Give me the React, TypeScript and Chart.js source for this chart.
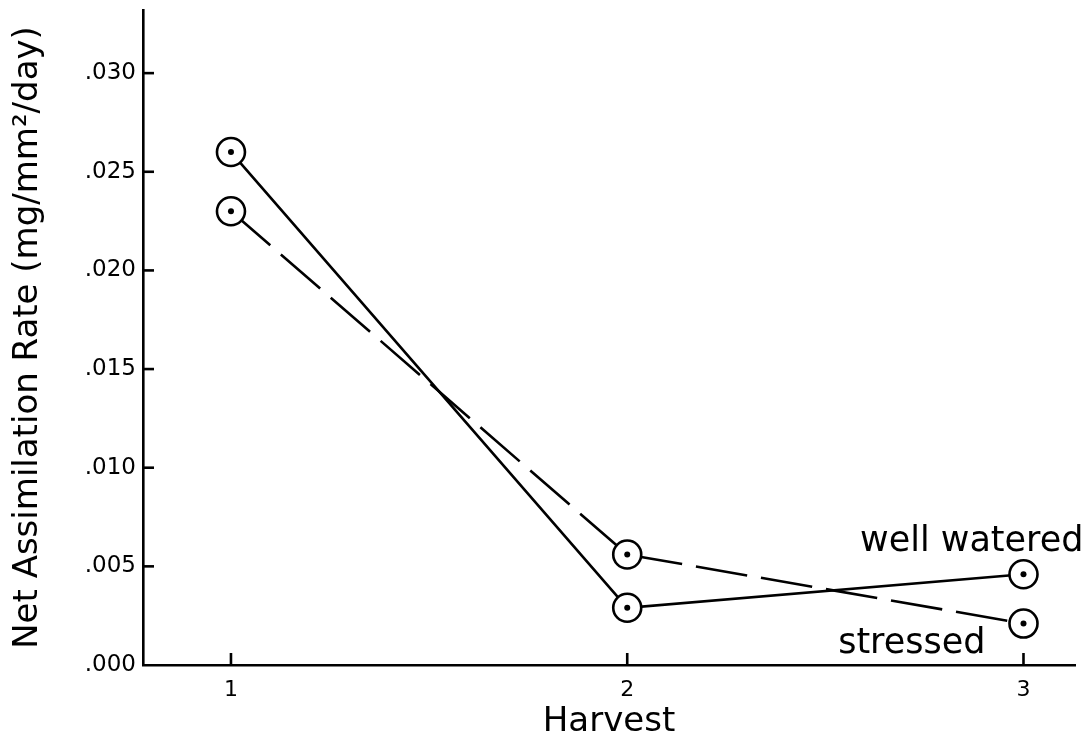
import { useEffect, useRef } from "react";
import { Chart, registerables } from "chart.js";

Chart.register(...registerables);

// Harvest number on the x axis
const harvests = [1, 2, 3];
// Net assimilation rate, mg/mm²/day
const wellWatered = [0.026, 0.0029, 0.0046];
const stressed = [0.023, 0.0056, 0.0021];

const yTickValues = [0, 0.005, 0.01, 0.015, 0.02, 0.025, 0.03];
const xTickValues = [1, 2, 3];

const yTitle = "Net Assimilation Rate (mg/mm²/day)";
const xTitle = "Harvest";
const seriesNames = ["well watered", "stressed"];

const FONT = "'DejaVu Sans', sans-serif";
const INK = "#000";
const STROKE = 2.6;

const fmtRate = (v: number) => v.toFixed(3).replace(/^0/, "");

// Inward tick marks, dotted marker centres and the series labels
const decorPlugin = {
  id: "decor",
  afterDatasetsDraw(chart: any) {
    const ctx = chart.ctx as CanvasRenderingContext2D;
    const xs = chart.scales.x;
    const ys = chart.scales.y;
    ctx.save();
    ctx.strokeStyle = INK;
    ctx.fillStyle = INK;
    ctx.lineWidth = STROKE;
    ctx.lineCap = "butt";

    yTickValues.forEach((v) => {
      if (v === 0) return;
      const py = ys.getPixelForValue(v);
      ctx.beginPath();
      ctx.moveTo(xs.left, py);
      ctx.lineTo(xs.left + 11, py);
      ctx.stroke();
    });
    xTickValues.forEach((v) => {
      const px = xs.getPixelForValue(v);
      ctx.beginPath();
      ctx.moveTo(px, ys.bottom);
      ctx.lineTo(px, ys.bottom - 12);
      ctx.stroke();
    });

    chart.data.datasets.forEach((_: any, i: number) => {
      chart.getDatasetMeta(i).data.forEach((pt: any) => {
        ctx.beginPath();
        ctx.arc(pt.x, pt.y, 3, 0, Math.PI * 2);
        ctx.fill();
      });
    });

    ctx.font = `35px ${FONT}`;
    ctx.textAlign = "right";
    ctx.textBaseline = "alphabetic";
    const wwLast = chart.getDatasetMeta(0).data[harvests.length - 1];
    const stLast = chart.getDatasetMeta(1).data[harvests.length - 1];
    ctx.fillText(seriesNames[0], wwLast.x + 60, wwLast.y - 23);
    ctx.fillText(seriesNames[1], stLast.x - 38, stLast.y + 29);
    ctx.restore();
  },
};

export default function App() {
  const canvasRef = useRef<HTMLCanvasElement | null>(null);

  useEffect(() => {
    const canvas = canvasRef.current;
    if (!canvas) return;

    const pointStyle = {
      pointStyle: "circle" as const,
      pointRadius: 14,
      pointBorderWidth: STROKE,
      pointBackgroundColor: "#fff",
      pointBorderColor: INK,
      borderColor: INK,
      borderWidth: STROKE,
      tension: 0,
      fill: false,
    };

    const chart = new Chart(canvas, {
      type: "line",
      data: {
        datasets: [
          {
            label: seriesNames[0],
            data: harvests.map((h, i) => ({ x: h, y: wellWatered[i] })),
            ...pointStyle,
          },
          {
            label: seriesNames[1],
            data: harvests.map((h, i) => ({ x: h, y: stressed[i] })),
            borderDash: [52, 14],
            ...pointStyle,
          },
        ],
      },
      options: {
        animation: false,
        responsive: false,
        devicePixelRatio: 1,
        layout: {
          autoPadding: false,
          padding: { top: 10, right: 13, left: 0, bottom: 0 },
        },
        plugins: {
          legend: { display: false },
          tooltip: { enabled: false },
        },
        events: [],
        scales: {
          x: {
            type: "linear",
            min: 0.778,
            max: 3.13,
            afterBuildTicks: (scale: any) => {
              scale.ticks = xTickValues.map((v) => ({ value: v }));
            },
            afterFit: (scale: any) => {
              scale.height = 74;
              scale.paddingLeft = 0;
              scale.paddingRight = 0;
            },
            grid: { display: false, drawTicks: false },
            border: { display: true, color: INK, width: STROKE },
            ticks: {
              color: INK,
              font: { family: FONT, size: 22 },
              padding: 12,
              maxRotation: 0,
              callback: (v: any) => String(v),
            },
            title: {
              display: true,
              text: xTitle,
              color: INK,
              font: { family: FONT, size: 34, lineHeight: 1 },
              padding: 0,
            },
          },
          y: {
            type: "linear",
            min: 0,
            max: 0.0332,
            afterBuildTicks: (scale: any) => {
              scale.ticks = yTickValues.map((v) => ({ value: v }));
            },
            afterFit: (scale: any) => {
              scale.width = 143;
              scale.paddingTop = 0;
              scale.paddingBottom = 0;
            },
            grid: { display: false, drawTicks: false },
            border: { display: true, color: INK, width: STROKE },
            ticks: {
              color: INK,
              font: { family: FONT, size: 23 },
              padding: 7,
              callback: (v: any) => fmtRate(Number(v)),
            },
            title: {
              display: true,
              text: yTitle,
              color: INK,
              font: { family: FONT, size: 34, lineHeight: 1 },
              padding: { top: 11, bottom: 0 },
            },
          },
        },
      },
      plugins: [decorPlugin],
    });

    return () => chart.destroy();
  }, []);

  return (
    <div
      style={{
        position: "fixed",
        left: 0,
        top: 0,
        width: 1088,
        height: 739,
        background: "#fff",
      }}
    >
      <canvas ref={canvasRef} width={1088} height={739} />
    </div>
  );
}
